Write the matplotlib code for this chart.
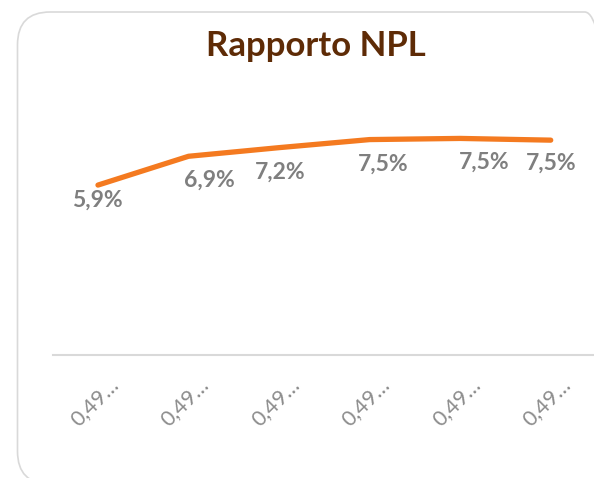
import matplotlib
matplotlib.use("Agg")
import matplotlib.pyplot as plt
from matplotlib.patches import FancyBboxPatch
from matplotlib.transforms import ScaledTranslation

# data
categories = ["0,49…", "0,49…", "0,49…", "0,49…", "0,49…", "0,49…"]
npl_ratio = [5.9, 6.9, 7.2, 7.48, 7.52, 7.46]

# manual data label offsets (pixels) as placed in the source chart
label_offsets = [(-1, -15), (21, -24), (1, -25), (14, -25), (24, -24), (0, -23)]

LINE_COLOR = "#F47A20"
LABEL_COLOR = "#7F7F7F"
TITLE_COLOR = "#5E2B06"
GRID_COLOR = "#D9D9D9"

plt.rcParams["font.family"] = ["Lato", "DejaVu Sans"]

fig = plt.figure(figsize=(5.94, 4.78), dpi=100)
W, H = 594, 478

# rounded chart border (runs off the right and bottom edges)
border = FancyBboxPatch(
    (17.5 / W, -6 / H), 600 / W, 472 / H,
    boxstyle="round,pad=0,rounding_size=0.055",
    transform=fig.transFigure, facecolor="none", edgecolor=GRID_COLOR,
    linewidth=1.2, mutation_aspect=W / H, zorder=-1,
)
fig.patches.append(border)

ax = fig.add_axes([52.7 / W, (H - 355) / H, 543.3 / W, 9 * 28.8 / H])
ax.set_facecolor("none")
x = list(range(len(categories)))
ax.plot(x, npl_ratio, color=LINE_COLOR, linewidth=3.8, solid_capstyle="round",
        solid_joinstyle="round")

for xi, v, (dx, dy) in zip(x, npl_ratio, label_offsets):
    ax.annotate(f"{v:.1f}%".replace(".", ","), (xi, v),
                xytext=(dx * 0.72, dy * 0.72), textcoords="offset points",
                ha="center", va="center", fontsize=16.5, fontweight="bold",
                color=LABEL_COLOR)

ax.set_xlim(-0.5, len(categories) - 0.5)
ax.set_ylim(0, 9)
ax.set_yticks([])
ax.set_xticks(x)
ax.set_xticklabels(categories, rotation=45, ha="right", va="center",
                   rotation_mode="anchor", fontsize=15.5, color="#8C8C8C")
ax.tick_params(axis="x", length=0, pad=19)
shift = ScaledTranslation(17 / 100, 0, fig.dpi_scale_trans)
for lbl in ax.get_xticklabels():
    lbl.set_transform(lbl.get_transform() + shift)
for s in ["top", "right", "left"]:
    ax.spines[s].set_visible(False)
ax.spines["bottom"].set_color(GRID_COLOR)
ax.spines["bottom"].set_linewidth(1.5)

fig.text(316 / W, 1 - 46 / H, "Rapporto NPL", ha="center", va="center",
         fontsize=25, fontweight="bold", color=TITLE_COLOR)

fig.savefig("out.png", dpi=100)
